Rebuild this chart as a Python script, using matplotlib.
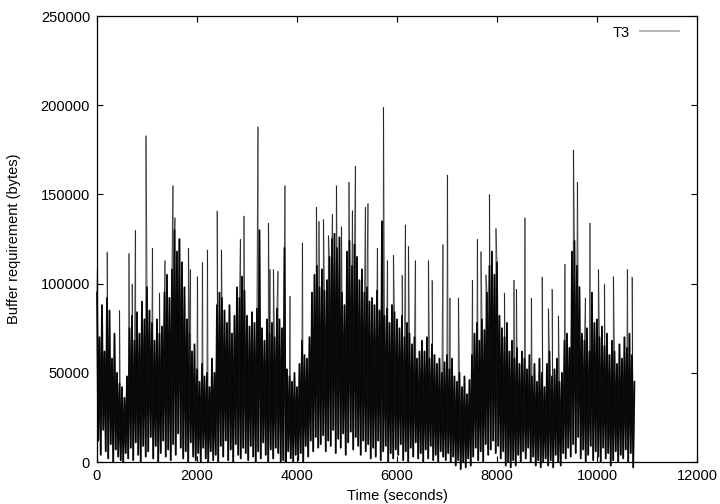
import numpy as np
import matplotlib.pyplot as plt
from matplotlib.collections import LineCollection
from matplotlib.lines import Line2D

plt.rcParams['font.family'] = ['Liberation Sans', 'DejaVu Sans']

# upper points of the trace, one every 50 s starting at t=0 (kilobytes)
peaks_kb = [
    95, 70, 88, 62, 92, 85, 58, 72, 50, 44,
    42, 36, 48, 75, 82, 68, 84, 72, 90, 80,
    98, 85, 78, 68, 80, 72, 76, 95, 105, 92,
    108, 130, 118, 125, 112, 98, 80, 72, 62, 66,
    52, 45, 55, 48, 50, 42, 58, 50, 88, 95,
    92, 85, 78, 88, 72, 82, 98, 92, 104, 96,
    82, 76, 84, 78, 86, 130, 75, 68, 80, 72,
    78, 70, 86, 80, 75, 120, 52, 48, 45, 50,
    42, 55, 68, 60, 58, 70, 95, 105, 110, 98,
    108, 96, 102, 115, 125, 128, 120, 126, 95, 88,
    118, 124, 110, 122, 115, 102, 108, 95, 98, 90,
    92, 88, 96, 85, 135, 82, 86, 78, 88, 84,
    80, 75, 82, 70, 78, 72, 66, 70, 58, 62,
    68, 62, 70, 58, 66, 60, 55, 58, 50, 56,
    60, 52, 58, 48, 45, 50, 42, 48, 38, 46,
    60, 72, 78, 68, 80, 74, 95, 110, 118, 105,
    112, 82, 75, 70, 78, 62, 68, 58, 64, 55,
    62, 58, 52, 60, 48, 55, 45, 58, 50, 42,
    55, 62, 48, 52, 58, 45, 50, 68, 72, 64,
    118, 124, 110, 98, 72, 68, 75, 62, 95, 78,
    80, 70, 76, 65, 72, 60, 68, 62, 55, 66,
    58, 70, 64, 72, 60, 45,
]

# lower points, one every 50 s starting at t=25 (kilobytes)
troughs_kb = [
    12, 4, 18, 6, 2, 10, 0, 7, 3, 1,
    0, 5, 2, 8, 1, 11, 4, 0, 9, 3,
    6, 14, 2, 9, 0, 5, 12, 3, 7, 1,
    10, 4, 16, 8, 2, 6, 0, 11, 3, 1,
    5, 0, 8, 2, 0, 6, 1, 4, 0, 9,
    3, 12, 1, 7, 0, 10, 4, 2, 8, 5,
    1, 9, 3, 0, 6, 2, 11, 4, 0, 7,
    2, 8, 5, 0, 1, 0, 6, 2, 0, 4,
    1, 5, 0, 9, 3, 12, 6, 14, 8, 10,
    15, 6, 12, 9, 18, 5, 13, 8, 16, 4,
    11, 17, 7, 14, 9, 4, 12, 6, 10, 2,
    8, 3, 12, 1, 6, 9, 0, 5, 2, 7,
    4, 10, 1, 6, 0, 8, 3, 11, 2, 5,
    0, 7, 2, 9, 1, 4, 0, 6, 3, 1,
    5, 0, 3, -2, 1, -4, 0, -3, 2, -2,
    3, 8, 1, 6, 0, 10, 4, 7, 12, 5,
    9, 2, 6, -2, 0, -3, 1, -2, 4, 0,
    6, 2, 8, 0, 3, -2, 1, -3, 0, 2,
    -2, 1, -3, 4, 0, -2, 5, 2, 8, 3,
    10, 5, 14, 2, 7, 0, 4, 9, 1, 6,
    3, 0, 8, 2, 5, -2, 1, 6, 0, 4,
    2, 7, 0, 5, -3,
]

# isolated spikes (time in s, height in kilobytes)
spike_t = [10, 200, 450, 640, 700, 770, 980, 1110, 1250, 1360, 1520, 1560, 1640,
           1830, 1870, 2010, 2110, 2210, 2400, 2490, 2870, 2940, 3220, 3430, 3460,
           3530, 3620, 3760, 3860, 4110, 4390, 4440, 4530, 4630, 4710, 4790, 4890,
           5040, 5110, 5170, 5370, 5420, 5610, 5730, 5810, 5930, 6100, 6170, 6230,
           6370, 6630, 6700, 6920, 7010, 7060, 7230, 7510, 7610, 7680, 7780, 7850,
           7980, 8150, 8340, 8390, 8560, 8690, 8900, 9030, 9100, 9230, 9360, 9530,
           9610, 9620, 9770, 9860, 10030, 10150, 10330, 10610, 10700]
spike_kb = [108, 118, 85, 117, 100, 130, 183, 120, 95, 113, 155, 137, 125,
            120, 108, 104, 112, 119, 141, 119, 125, 138, 188, 134, 108,
            108, 107, 155, 93, 123, 143, 135, 136, 127, 139, 155, 132,
            157, 141, 166, 143, 145, 120, 199, 113, 116, 105, 133, 121,
            113, 113, 102, 122, 161, 92, 92, 102, 125, 118, 105, 150,
            131, 95, 102, 97, 137, 92, 104, 86, 97, 82, 111, 175,
            157, 111, 92, 134, 108, 100, 104, 108, 104]

t_peaks = np.arange(len(peaks_kb)) * 50.0
t_troughs = np.arange(len(troughs_kb)) * 50.0 + 25.0

# dense body of the trace (peaks and troughs only)
tb = np.concatenate([t_peaks, t_troughs])
vb = np.concatenate([peaks_kb, troughs_kb]) * 1000.0
ob = np.argsort(tb, kind='stable')
tb, vb = tb[ob], vb[ob]

# full trace with spikes
t = np.concatenate([t_peaks, t_troughs, np.array(spike_t, dtype=float)])
v = np.concatenate([peaks_kb, troughs_kb, spike_kb]) * 1000.0
order = np.argsort(t, kind='stable')
t, v = t[order], v[order]

fig, ax = plt.subplots(figsize=(7.2, 5.04), dpi=100)
fig.subplots_adjust(left=0.1347, right=0.968, bottom=0.0833, top=0.968)

ax.plot(tb, vb, color='#141414', linewidth=1.3, clip_on=False)

pts = np.column_stack([t, v]).reshape(-1, 1, 2)
segs = np.concatenate([pts[:-1], pts[1:]], axis=1)
lc = LineCollection(segs, colors='black', linewidths=0.8, alpha=0.6, clip_on=False)
ax.add_collection(lc)

ax.set_xlim(0, 12000)
ax.set_ylim(0, 250000)
ax.set_xticks(np.arange(0, 12001, 2000))
ax.set_yticks(np.arange(0, 250001, 50000))
ax.tick_params(direction='in', length=4.5, width=0.8, top=True, right=True,
               labelsize=10.5, pad=5)
for s in ax.spines.values():
    s.set_linewidth(0.9)
    s.set_zorder(3)

ax.set_xlabel('Time (seconds)', fontsize=10.5, labelpad=4)
ax.set_ylabel('Buffer requirement (bytes)', fontsize=10.5, labelpad=14)

handle = Line2D([], [], color='#a8a8a8', linewidth=1.2)
ax.legend([handle], ['T3'], loc='upper right', bbox_to_anchor=(1.0, 1.018),
          frameon=False, fontsize=10.5,
          handlelength=2.74, handletextpad=0.7, markerfirst=False,
          borderaxespad=0.8, borderpad=0.4)

fig.savefig('out.png', dpi=100)
